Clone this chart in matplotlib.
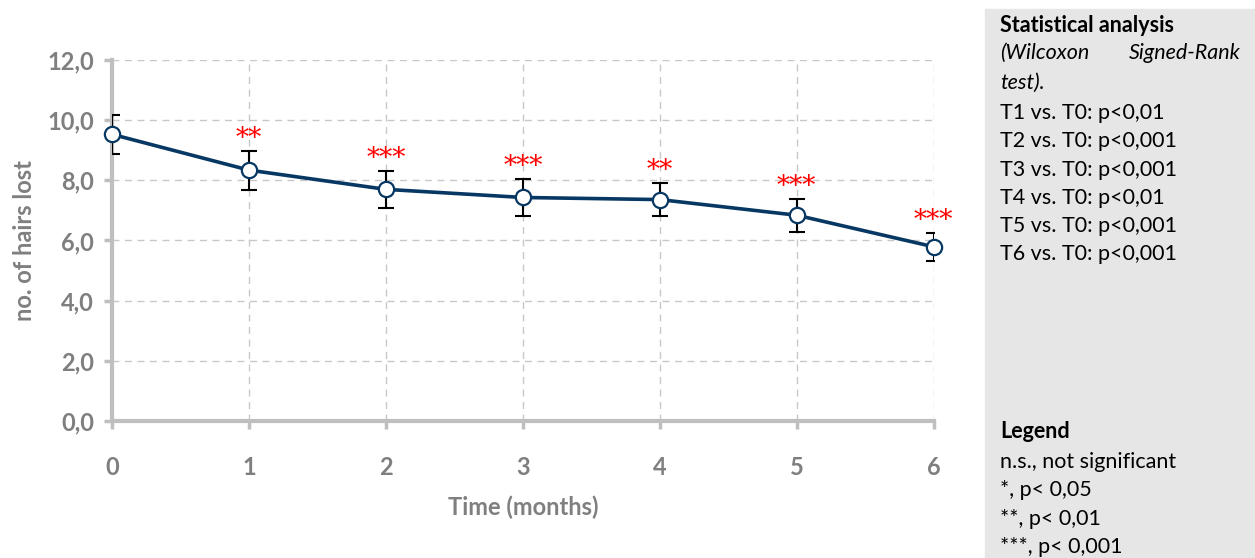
import matplotlib.pyplot as plt
from matplotlib.patches import Rectangle

# data
months = [0, 1, 2, 3, 4, 5, 6]
hairs_lost = [9.53, 8.34, 7.70, 7.43, 7.36, 6.84, 5.79]
sem = [0.65, 0.65, 0.62, 0.60, 0.54, 0.55, 0.46]
signif = ["", "**", "***", "***", "**", "***", "***"]
y_ticks = [0, 2, 4, 6, 8, 10, 12]

stat_lines = ["T1 vs. T0: p<0,01", "T2 vs. T0: p<0,001", "T3 vs. T0: p<0,001",
              "T4 vs. T0: p<0,01", "T5 vs. T0: p<0,001", "T6 vs. T0: p<0,001"]
legend_lines = ["n.s., not significant", "*, p< 0,05", "**, p< 0,01", "***, p< 0,001"]

plt.rcParams['font.family'] = ['Lato', 'DejaVu Sans']
grey = "#7f7f7f"
navy = "#073763"

fig = plt.figure(figsize=(12.55, 5.58), dpi=100)
ax = fig.add_axes([0.0892, 0.2455, 0.6548, 0.647])

ax.errorbar(months, hairs_lost, yerr=sem, fmt='none', ecolor='black',
            elinewidth=1.5, capsize=6, capthick=1.5, zorder=3)
ax.plot(months, hairs_lost, color=navy, linewidth=2.6, marker='o', markersize=11,
        markerfacecolor='white', markeredgecolor=navy, markeredgewidth=1.6,
        zorder=4, clip_on=False)

for x, y, e, s in zip(months, hairs_lost, sem, signif):
    if s:
        ax.annotate(s, (x, y + e), xytext=(0, 0), textcoords='offset points',
                    ha='center', va='bottom', color='red', fontsize=19,
                    family='DejaVu Serif')

ax.set_xlim(0, 6)
ax.set_ylim(0, 12)
ax.set_xticks(months)
ax.set_yticks(y_ticks)
ax.set_yticklabels([f"{v:.1f}".replace(".", ",") for v in y_ticks])

ax.grid(True, linestyle=(0, (5, 4)), color="#c8c8c8", linewidth=1)
ax.set_axisbelow(True)
for side in ["top", "right"]:
    ax.spines[side].set_visible(False)
for side in ["left", "bottom"]:
    ax.spines[side].set_color("#bfbfbf")
    ax.spines[side].set_linewidth(3)

ax.tick_params(axis='y', colors="#bfbfbf", length=6, width=2.5, pad=7,
               labelcolor=grey, labelsize=17)
ax.tick_params(axis='x', colors="#bfbfbf", length=6, width=2.5, pad=19,
               labelcolor=grey, labelsize=17)
for lab in ax.get_xticklabels() + ax.get_yticklabels():
    lab.set_fontweight('bold')

ax.set_xlabel("Time (months)", color=grey, fontsize=17, fontweight='bold', labelpad=12)
ax.set_ylabel("no. of hairs lost", color=grey, fontsize=17, fontweight='bold', labelpad=8)

# grey side panel with notes
fig.patches.append(Rectangle((985 / 1255, 0), 1 - 985 / 1255, 1 - 9 / 558,
                             transform=fig.transFigure, color="#e6e6e6", zorder=0))

def px(x, y):
    return x / 1255, 1 - y / 558

fs = 15.5
fig.text(*px(1000, 25), "Statistical analysis", fontsize=fs, fontweight='bold', va='center')
fig.text(*px(1000, 53), "(Wilcoxon", fontsize=fs, style='italic', va='center')
fig.text(*px(1241, 53), "Signed-Rank", fontsize=fs, style='italic', va='center', ha='right')
fig.text(*px(1000, 83), "test).", fontsize=fs, style='italic', va='center')
for i, t in enumerate(stat_lines):
    fig.text(*px(1000, 113 + 28.3 * i), t, fontsize=fs, va='center')

fig.text(*px(1000, 432), "Legend", fontsize=fs, fontweight='bold', va='center')
for i, t in enumerate(legend_lines):
    fig.text(*px(1000, 462 + 28.3 * i), t, fontsize=fs, va='center')

fig.savefig("out.png", dpi=100)
